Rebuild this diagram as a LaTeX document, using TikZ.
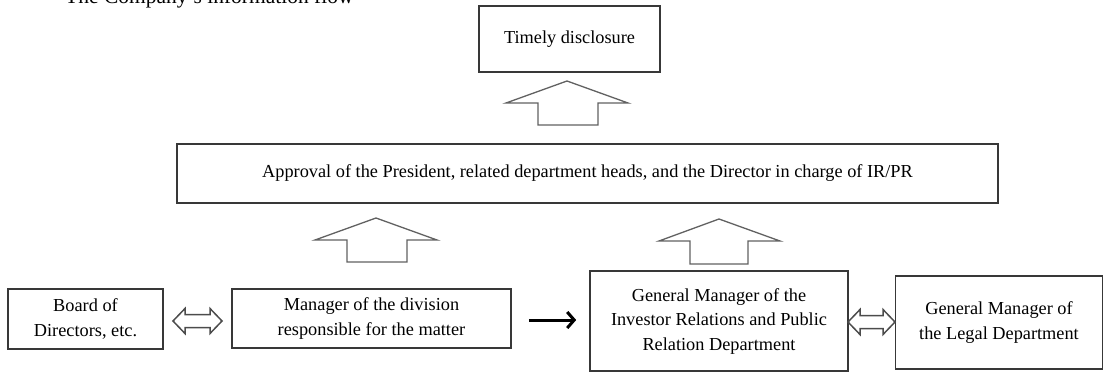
\documentclass[tikz,border=0pt]{standalone}
\usepackage{fontspec}
\setmainfont{Liberation Serif}
\usetikzlibrary{arrows.meta}
\tikzset{
  box/.style={draw=black!78, line width=1.6pt, fill=white, inner sep=0pt, align=center,
    font=\fontsize{18.3}{24.5}\selectfont},
  blockarrow/.style={draw=black!62, line width=1.3pt, fill=white, line join=miter},
  dblarrow/.style={draw=black!70, line width=1.5pt, fill=white, line join=miter},
  conn/.style={draw=black, line width=3pt, -{Straight Barb[length=7pt,width=16pt,line width=3pt]}},
}
\begin{document}
\begin{tikzpicture}[x=1pt,y=-1pt]
\useasboundingbox (0,0) rectangle (1105,372);
\clip (0,0) rectangle (1105,372);
\fill[white] (0,0) rectangle (1105,372);
% partially visible title
\node[anchor=base west, inner sep=0pt, font=\fontsize{21.5}{24}\selectfont] (title) at (65,4) {The Company's information flow};
% boxes
\node[box, minimum width=181pt, minimum height=66pt] (timely) at (569.5,39) {Timely disclosure};
\node[box, minimum width=821pt, minimum height=59pt] (approval) at (587.5,173.5) {Approval of the President, related department heads, and the Director in charge of IR/PR};
\node[box, minimum width=155pt, minimum height=60pt] (board) at (85.5,319) {Board of\\Directors, etc.};
\node[box, minimum width=279pt, minimum height=59pt] (mgr) at (371.5,318.5) {Manager of the division\\responsible for the matter};
\node[box, minimum width=258pt, minimum height=100pt] (gmir) at (719,321) {General Manager of the\\Investor Relations and Public\\Relation Department};
\node[box, minimum width=207pt, minimum height=93pt] (legal) at (999,322.5) {General Manager of\\the Legal Department};
% block arrows (upward)
\draw[blockarrow] (567,81) -- (506,103) -- (538,103) -- (538,125) -- (598,125) -- (598,103) -- (628,103) -- cycle;
\draw[blockarrow] (376,218) -- (315,240) -- (347,240) -- (347,262) -- (407,262) -- (407,240) -- (437,240) -- cycle;
\draw[blockarrow] (719,219) -- (659,241) -- (690,241) -- (690,264) -- (748,264) -- (748,241) -- (780,241) -- cycle;
% double arrows
\draw[dblarrow] (173,321) -- (185,308.5) -- (185,314.5) -- (210,314.5) -- (210,308.5) -- (222,321) -- (210,333.5) -- (210,327.5) -- (185,327.5) -- (185,333.5) -- cycle;
\draw[dblarrow] (848,322) -- (860,309.5) -- (860,315.5) -- (883,315.5) -- (883,309.5) -- (895,322) -- (883,334.5) -- (883,328.5) -- (860,328.5) -- (860,334.5) -- cycle;
% black connector
\coordinate (cs) at ([xshift=17pt,yshift=-1.5pt]mgr.east);
\coordinate (ce) at (cs -| gmir.west);
\draw[conn, shorten >=13pt] (cs) -- (ce);
\end{tikzpicture}
\end{document}
